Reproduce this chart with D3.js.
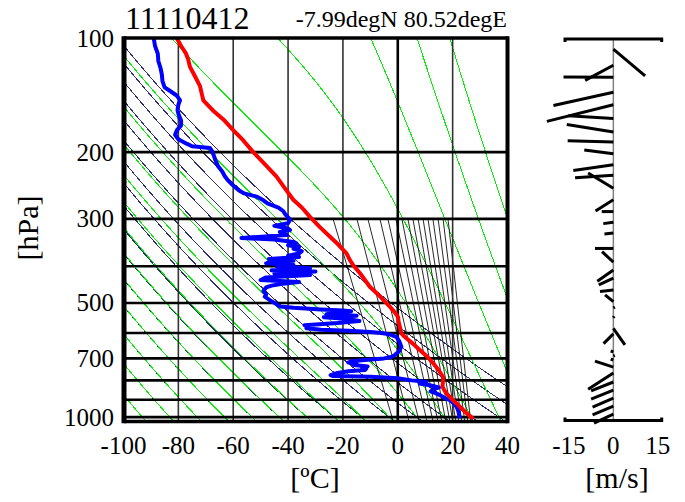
<!DOCTYPE html>
<html><head><meta charset="utf-8">
<script src="https://cdn.jsdelivr.net/npm/d3@7"></script>
<style>
body{margin:0;background:#fff}
svg{display:block}
text{font-family:"Liberation Serif","Times New Roman",serif;fill:#000}
</style></head>
<body><svg id="chart" width="685" height="502"></svg>
<script>
// ---------- data ----------
const titleText = "11110412";
const locText = "-7.99degN 80.52degE";
const tempTicks = [-100, -80, -60, -40, -20, 0, 20, 40];
const pressLabels = [100, 200, 300, 500, 700, 1000];
const pressGrid = [200, 300, 400, 500, 600, 700, 800, 900, 1000];
const windTicks = [-15, 0, 15];

// temperature profile
const tempP = [100,105,110,114,119,126,134,140,146,155,164,175,186,200,215,232,250,267,280,296,315,334,350,370,385,397,420,453,480,511,530,545,560,580,601,614,640,665,690,721,750,783,800,832,850,866,902,925,948,975,1000,1010];
const tempT = [-80.6,-79,-77.2,-76.4,-75.8,-74,-72.1,-71.5,-70.9,-67.5,-63.6,-60,-56.4,-52.7,-48.5,-44.2,-41,-38.1,-35,-32.1,-28.5,-24.8,-21.8,-18.7,-17.5,-16.3,-13.5,-10.2,-6.5,-2.9,-1,0.1,0.3,0.8,1.3,2.5,5.5,8,10.5,12.9,14.8,16.5,16.5,16.3,17,17.7,20.1,21.8,23.2,25,26.8,27.5];

// dew point profile
const dewP = [100,105,110,115,120,125,130,135,138,142,146,150,155,160,165,170,175,180,185,190,193,195,200,205,210,218,225,232,237,245,252,257,262,268,273,280,286,292,300,302,308,313,318,321,325,331,337,340,345,348,352,356,360,365,370,375,378,383,387,390,393,397,400,405,410,413,418,422,428,435,440,445,450,455,465,475,481,495,505,511,515,520,523,526,530,535,540,545,550,558,565,572,578,583,588,592,596,600,605,614,630,652,670,685,693,700,707,712,718,724,729,735,740,745,751,757,765,775,779,783,790,800,807,815,825,835,845,855,866,880,890,902,920,939,960,980,1008];
const dewT = [-89,-88.5,-87.5,-87.3,-86.5,-86,-85.8,-85,-83,-80.5,-79.4,-80,-80.3,-79.8,-79,-79,-80.5,-81.2,-80,-77,-75,-68.5,-67.5,-67,-66.5,-65.5,-64,-63,-62,-60,-58,-56,-51.5,-49,-47.5,-43.5,-41.8,-41,-39.5,-39.3,-40,-45,-40,-39.3,-43,-40.5,-57,-45,-38,-37,-40,-36,-38,-35,-36,-40,-36,-47,-38,-46,-48,-38,-44,-32,-46,-30,-45,-32,-48,-50,-36,-42,-46,-48,-49,-48,-48.5,-46,-44,-43,-38,-28,-20,-17,-22,-26,-15,-27,-19,-14,-22,-34,-33,-33.3,-28,-18,-10,-6,-3,-0.5,0.5,1.3,0.5,-1,-2,-5,-12,-17,-18,-15,-16,-11,-13,-11.5,-12,-18,-22,-24.5,-23.6,-10,0,5,10.5,8,12,15,13,12,14,16,17,19,20.5,21.4,22,22.3,22.6];

// wind sticks (m/s)
const windP = [107,118,127,139,150,163,177,188,202,216,230,249,267,287,306,327,359,390,409,430,462,496,515,547,583,603,673,690,707,738,765,808,849,891,935,982];
const windU = [10.7,-9.5,-16.8,-20.2,-22.4,-15.2,-15.7,-15.4,-9.8,-13.5,-12.9,-8.5,-6,-3.9,-3.4,-3,-6.2,-3.8,-5.4,-4.9,-4.5,-2.8,0.5,0.3,3.9,-3.3,-0.9,0.5,-0.9,-6.2,-8.5,-7.5,-7.5,-7,-7,-6.5];
const windV = [-9,-5.1,0.1,-4.5,-5.6,0.9,2.5,0.4,1.3,-1.9,-0.9,5.1,-3.8,0,-0.5,-0.3,0,3.5,-3.8,-2.3,-0.5,2.3,0.3,0.5,-5.6,-3.3,0.3,0.2,0.3,2,-5.5,-3,-3,-3,-3,-3];

// reference lines
const dryTheta = [180,190,200,210,220,230,240,250,260,270,280,290,300,310,320,330];
const moistStartK = [180,190,200,210,220,230,240,250,260,270,280,290,300,310,320,330,340];
// thin black lines below 300 hPa: temperature (degC) at 300 hPa and at 1000 hPa
const mixTop = [-23.6,-14.9,-10.9,-6.5,-3.6,-0.7,1.5,3.7,5.5,7.4,9.2,11.0,12.8,14.7,16.5,18.3];
const mixBottom = [-2.1,3.7,7.4,10.3,12.5,14.3,15.7,17.2,18.7,19.8,20.9,22.0,23.1,24.2,25.3,26.4];

// ---------- layout ----------
const svg = d3.select("#chart");
const plot = {left:124, right:507.5, top:38, bottom:421.5};
const x = d3.scaleLinear().domain([-100, 40]).range([123.5, 507.5]);
const y = d3.scaleLog().domain([100, 1027]).range([plot.top, plot.bottom]);
const xw = d3.scaleLinear().domain([-16.3, 16.3]).range([565, 661.7]);
const kw = (xw(15) - xw(0)) / 15;

svg.append("clipPath").attr("id","clip").append("rect")
  .attr("x",plot.left).attr("y",plot.top).attr("width",plot.right-plot.left).attr("height",plot.bottom-plot.top);
const g = svg.append("g").attr("clip-path","url(#clip)");

const pLevels = [];
for (let p = 100; p <= 1030; p += 5) pLevels.push(p);
const line = d3.line().x(d => x(d[1])).y(d => y(d[0]));

// dry adiabats
dryTheta.forEach(th => {
  const pts = pLevels.map(p => [p, th * Math.pow(p/1000, 0.2857) - 273.15]);
  g.append("path").attr("d", line(pts)).attr("fill","none").attr("stroke","#2e2e6c")
    .attr("stroke-width",1).attr("shape-rendering","crispEdges");
});

// moist (pseudo) adiabats
function es(Tk){ const t = Tk - 273.15; return 6.112*Math.exp(17.67*t/(t+243.5)); }
function dTdp(Tk, p){
  const e = es(Tk); const r = 0.622*e/Math.max(p-e, 1e-3);
  const Rd=287.04, cp=1005.7, L=2.501e6, eps=0.622;
  return (Rd*Tk + L*r)/(p*(cp + L*L*r*eps/(Rd*Tk*Tk)));
}
function integ(T0, p0, p1, dp){
  const out = [[p0, T0]]; let T = T0, p = p0;
  const n = Math.round(Math.abs(p1-p0)/Math.abs(dp)); const h = (p1-p0)/n;
  for (let i=0;i<n;i++){
    const k1=dTdp(T,p), k2=dTdp(T+h*k1/2,p+h/2), k3=dTdp(T+h*k2/2,p+h/2), k4=dTdp(T+h*k3,p+h);
    T += h*(k1+2*k2+2*k3+k4)/6; p += h; out.push([p, T]);
  }
  return out;
}
moistStartK.forEach(T0 => {
  const up = integ(T0, 1000, 100, 2).reverse();
  const down = integ(T0, 1000, 1030, 2).slice(1);
  const pts = up.concat(down).map(d => [d[0], d[1]-273.15]);
  g.append("path").attr("d", line(pts)).attr("fill","none").attr("stroke","#00ee00")
    .attr("stroke-width",1).attr("shape-rendering","crispEdges");
});

// thin black lines (straight in T-log p) from 300 hPa to the bottom
mixTop.forEach((t0, i) => {
  const t1 = mixBottom[i];
  const f = p => t0 + (t1 - t0) * Math.log(p/300) / Math.log(1000/300);
  const pts = [[300, f(300)], [1030, f(1030)]];
  g.append("path").attr("d", line(pts)).attr("fill","none").attr("stroke","#111").attr("stroke-width",0.9);
});

// grid
tempTicks.slice(1, -1).forEach(t => {
  g.append("line").attr("x1",x(t)).attr("x2",x(t)).attr("y1",plot.top).attr("y2",plot.bottom)
    .attr("stroke", t === 0 ? "#000" : "#333").attr("stroke-width", t === 0 ? 2.6 : 1.6);
});
pressGrid.forEach(p => {
  g.append("line").attr("x1",plot.left).attr("x2",plot.right).attr("y1",y(p)).attr("y2",y(p))
    .attr("stroke","#000").attr("stroke-width",2.6);
});

// profiles
const prof = d3.line().x(d => x(d[1])).y(d => y(d[0]));
g.append("path").attr("d", prof(dewP.map((p,i)=>[p, dewT[i]]))).attr("fill","none")
  .attr("stroke","#0000ff").attr("stroke-width",4).attr("stroke-linejoin","round");
g.append("path").attr("d", prof(tempP.map((p,i)=>[p, tempT[i]]))).attr("fill","none")
  .attr("stroke","#ff0000").attr("stroke-width",4).attr("stroke-linejoin","round");

// border
svg.append("line").attr("x1",plot.left).attr("x2",plot.left).attr("y1",plot.top-1.7).attr("y2",plot.bottom+1.7).attr("stroke","#000").attr("stroke-width",5);
svg.append("line").attr("x1",plot.right).attr("x2",plot.right).attr("y1",plot.top-1.7).attr("y2",plot.bottom+1.7).attr("stroke","#000").attr("stroke-width",4);
svg.append("line").attr("x1",plot.left).attr("x2",plot.right).attr("y1",plot.top).attr("y2",plot.top).attr("stroke","#000").attr("stroke-width",3.4);
svg.append("line").attr("x1",plot.left).attr("x2",plot.right).attr("y1",plot.bottom).attr("y2",plot.bottom).attr("stroke","#000").attr("stroke-width",3.4);

// axis labels
pressLabels.forEach(p => {
  svg.append("text").attr("x",114).attr("y",y(p)+8.5).attr("text-anchor","end").attr("font-size",25).text(p);
});
tempTicks.forEach(t => {
  svg.append("text").attr("x",x(t)).attr("y",454).attr("text-anchor","middle").attr("font-size",25).text(t);
});
svg.append("text").attr("x",315).attr("y",488).attr("text-anchor","middle").attr("font-size",30).text("[ºC]");
svg.append("text").attr("transform","translate(38,228) rotate(-90)").attr("text-anchor","middle").attr("font-size",30).text("[hPa]");
svg.append("text").attr("x",125).attr("y",29).attr("font-size",32).text(titleText);
svg.append("text").attr("x",507).attr("y",27).attr("text-anchor","end").attr("font-size",24).text(locText);

// wind panel
const wy0 = 39, wy1 = 420.5;
svg.append("line").attr("x1",xw(0)).attr("x2",xw(0)).attr("y1",wy0).attr("y2",wy1).attr("stroke","#808080").attr("stroke-width",1.5);
windP.forEach((p,i) => {
  const y0 = y(p);
  svg.append("line").attr("x1",xw(0)).attr("y1",y0)
    .attr("x2",xw(0)+windU[i]*kw).attr("y2",y0-windV[i]*kw)
    .attr("stroke","#000").attr("stroke-width",3);
});
svg.append("path").attr("d",`M${xw(-16.3)},${wy0+3}V${wy0}H${xw(16.3)}V${wy0+3}`).attr("fill","none").attr("stroke","#000").attr("stroke-width",3);
svg.append("path").attr("d",`M${xw(-16.3)},${wy1-3}V${wy1}H${xw(16.3)}V${wy1-3}`).attr("fill","none").attr("stroke","#000").attr("stroke-width",3);
windTicks.forEach(t => {
  svg.append("text").attr("x",xw(t)).attr("y",454).attr("text-anchor","middle").attr("font-size",25).text(t);
});
svg.append("text").attr("x",617).attr("y",488).attr("text-anchor","middle").attr("font-size",30).text("[m/s]");
</script></body></html>
